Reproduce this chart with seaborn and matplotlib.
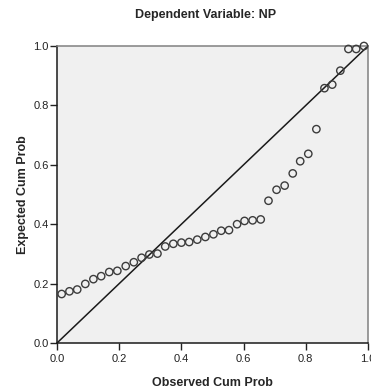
import matplotlib
matplotlib.use("Agg")
import matplotlib.pyplot as plt
import seaborn as sns
import pandas as pd

observed = [0.015, 0.040, 0.065, 0.091, 0.117, 0.142, 0.168, 0.194, 0.221, 0.247,
            0.272, 0.297, 0.323, 0.348, 0.374, 0.400, 0.425, 0.451, 0.477, 0.503,
            0.528, 0.553, 0.579, 0.603, 0.629, 0.655, 0.680, 0.706, 0.732, 0.758,
            0.782, 0.808, 0.834, 0.860, 0.885, 0.911, 0.937, 0.962, 0.987]
expected = [0.165, 0.174, 0.180, 0.199, 0.215, 0.225, 0.239, 0.243, 0.259, 0.272,
            0.287, 0.298, 0.301, 0.325, 0.334, 0.338, 0.340, 0.348, 0.357, 0.366,
            0.378, 0.380, 0.400, 0.411, 0.413, 0.416, 0.479, 0.516, 0.530, 0.571,
            0.612, 0.637, 0.720, 0.858, 0.870, 0.917, 0.990, 0.990, 1.000]
ticks = [0.0, 0.2, 0.4, 0.6, 0.8, 1.0]
tick_labels = ["0.0", "0.2", "0.4", "0.6", "0.8", "1.0"]

df = pd.DataFrame({"obs": observed, "exp": expected})

sns.set_style("ticks")
plt.rcParams['font.family'] = ['Liberation Sans', 'DejaVu Sans']

fig = plt.figure(figsize=(3.71, 3.90), dpi=100)
ax = fig.add_axes([57/371, 47/390, 311/371, 297/390])
ax.set_facecolor("#F0F0F0")

ax.plot([0, 1], [0, 1], color="#1a1a1a", lw=1.1, zorder=2)
sns.scatterplot(data=df, x="obs", y="exp", ax=ax, marker="o", s=28,
                facecolor="none", edgecolor="#3c3c3c", linewidth=1.0, zorder=3,
                clip_on=False)

ax.set_xlim(0, 1)
ax.set_ylim(0, 1)
ax.set_xticks(ticks)
ax.set_xticklabels(tick_labels, fontsize=8, color="#222222")
ax.set_yticks(ticks)
ax.set_yticklabels(tick_labels, fontsize=8, color="#222222")
ax.tick_params(direction="out", length=5, width=1, color="#222222")
ax.tick_params(axis="x", pad=3)
ax.tick_params(axis="y", pad=1)

for s in ["left", "bottom"]:
    ax.spines[s].set_color("#1a1a1a")
    ax.spines[s].set_linewidth(1.1)
for s in ["top", "right"]:
    ax.spines[s].set_visible(True)
    ax.spines[s].set_color("#808080")
    ax.spines[s].set_linewidth(1.1)

ax.set_xlabel("Observed Cum Prob", fontsize=9, fontweight="bold", labelpad=9)
ax.set_ylabel("Expected Cum Prob", fontsize=9, fontweight="bold", labelpad=3)
fig.text(0.555, 0.962, "Dependent Variable: NP", ha="center", va="center",
         fontsize=9, fontweight="bold")

fig.savefig("out.png", dpi=100)
